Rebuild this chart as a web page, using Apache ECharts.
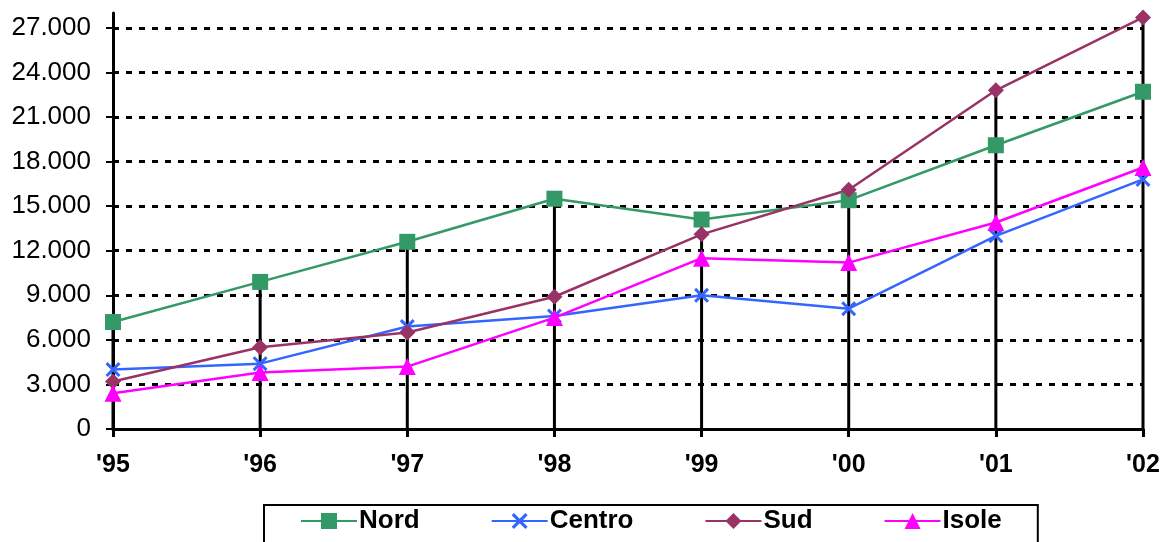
<!DOCTYPE html>
<html>
<head>
<meta charset="utf-8">
<script src="https://cdn.jsdelivr.net/npm/echarts@6/dist/echarts.min.js"></script>
<style>
  html, body { margin: 0; padding: 0; background: #fff; }
  #chart { width: 1164px; height: 542px; }
</style>
</head>
<body>
<div id="chart"></div>
<script>
// Years on the horizontal axis
const years = ["'95", "'96", "'97", "'98", "'99", "'00", "'01", "'02"];

// Values per area
const nord   = [7200, 9900, 12600, 15500, 14100, 15400, 19100, 22700];
const centro = [4000, 4400, 6900, 7600, 9000, 8100, 13000, 16800];
const sud    = [3200, 5500, 6500, 8900, 13100, 16100, 22800, 27700];
const isole  = [2400, 3800, 4200, 7500, 11500, 11200, 13900, 17600];

// Value-axis tick labels
const yTicks = [0, 3000, 6000, 9000, 12000, 15000, 18000, 21000, 24000, 27000];

// Drop line height per year: the highest value of that year
const dropTop = years.map((_, i) => Math.max(nord[i], centro[i], sud[i], isole[i]));

const FONT = '"Liberation Sans", Arial, sans-serif';
const crossPath = 'path://M2,0 L7,5 L12,0 L14,2 L9,7 L14,12 L12,14 L7,9 L2,14 L0,12 L5,7 L0,2 Z';

function fmt(v) {
  return String(v).replace(/\B(?=(\d{3})+(?!\d))/g, '.');
}

function lineSeries(name, data, color, symbol, size) {
  return {
    name: name,
    type: 'line',
    data: data,
    symbol: symbol,
    symbolSize: size,
    showSymbol: true,
    z: 5,
    lineStyle: { color: color, width: 2.5 },
    itemStyle: { color: color, borderWidth: 0 },
    emphasis: { disabled: true },
    animation: false
  };
}

const chart = echarts.init(document.getElementById('chart'), null, { renderer: 'canvas' });
chart.setOption({
  animation: false,
  grid: { left: 113, right: 21, top: 13, bottom: 113 },
  xAxis: {
    type: 'category',
    data: years,
    boundaryGap: false,
    axisLine: { lineStyle: { color: '#000', width: 3 } },
    axisTick: { show: true, inside: false, length: 8, alignWithLabel: true, lineStyle: { color: '#000', width: 3 } },
    axisLabel: { margin: 24, color: '#000', fontFamily: FONT, fontSize: 25, fontWeight: 'bold' },
    splitLine: { show: false }
  },
  yAxis: {
    type: 'value',
    min: 0,
    max: 28000,
    interval: 3000,
    axisLine: { show: true, lineStyle: { color: '#000', width: 3 } },
    axisTick: { show: true, length: 7, customValues: yTicks, lineStyle: { color: '#000', width: 2 } },
    axisLabel: {
      customValues: yTicks,
      margin: 22,
      color: '#000',
      fontFamily: FONT,
      fontSize: 26,
      formatter: fmt
    },
    splitLine: {
      show: true,
      showMinLine: false,
      lineStyle: { color: '#000', width: 3, type: [6, 7] }
    }
  },
  legend: {
    data: ['Nord', 'Centro', 'Sud', 'Isole'],
    left: 264,
    top: 505,
    orient: 'horizontal',
    itemWidth: 56,
    itemHeight: 20,
    itemGap: 71,
    padding: [3, 36, 30, 36],
    borderColor: '#000',
    borderWidth: 2,
    textStyle: { color: '#000', fontFamily: FONT, fontSize: 26, fontWeight: 'bold', padding: [0, 0, 0, -3] },
    selectedMode: false
  },
  series: [
    {
      name: 'drop',
      type: 'bar',
      data: dropTop,
      barWidth: 3,
      z: 1,
      itemStyle: { color: '#000' },
      emphasis: { disabled: true },
      silent: true
    },
    lineSeries('Nord', nord, '#339966', 'rect', 16),
    lineSeries('Centro', centro, '#3366FF', crossPath, 15),
    lineSeries('Sud', sud, '#993366', 'diamond', 16),
    lineSeries('Isole', isole, '#FF00FF', 'triangle', 17)
  ]
});
</script>
</body>
</html>
